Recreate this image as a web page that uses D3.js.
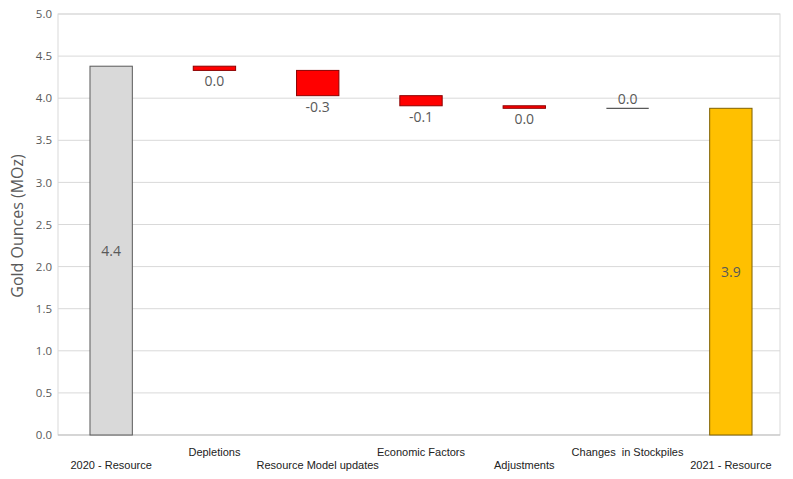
<html>
<script src='https://d3js.org/d3.v7.min.js'></script>
<style>
    body { margin: 0; background: #fff; }
    text { font-family: 'Open Sans', sans-serif; }
</style>
<body onload='init()'>
<svg width=793 height=479 id="chart"></svg>
<script>
// chart values
var categories = ["2020 - Resource", "Depletions", "Resource Model updates", "Economic Factors",
                  "Adjustments", "Changes  in Stockpiles", "2021 - Resource"];
var startValue = 4.38;
var changes = [-0.05, -0.30, -0.12, -0.03, 0.0];
var endValue = 3.88;
var valueLabels = ["4.4", "0.0", "-0.3", "-0.1", "0.0", "0.0", "3.9"];
var yTicks = [0, 0.5, 1, 1.5, 2, 2.5, 3, 3.5, 4, 4.5, 5];

function init() {
    var svg = d3.select("svg");
    var left = 58, right = 780, top = 14, bottom = 435;

    var xScale = d3.scaleBand().domain(categories).range([59, 783]).paddingInner(0.59).paddingOuter(0.3);
    var yScale = d3.scaleLinear().domain([0, 5]).range([bottom, top]);

    // build waterfall rows
    var rows = [];
    var run = startValue;
    rows.push({ cat: categories[0], y0: 0, y1: startValue, type: "total", fill: "#d9d9d9", stroke: "#595959" });
    changes.forEach(function (c, i) {
        var next = run + c;
        rows.push({ cat: categories[i + 1], y0: next, y1: run, type: c === 0 ? "zero" : "delta",
                    fill: "#ff0000", stroke: "#8b0000" });
        run = next;
    });
    rows.push({ cat: categories[6], y0: 0, y1: endValue, type: "total", fill: "#ffc000", stroke: "#7f6000" });

    // gridlines
    svg.append("g").selectAll("line").data(yTicks.slice(1)).enter().append("line")
        .attr("x1", left).attr("x2", right)
        .attr("y1", function (d) { return yScale(d); })
        .attr("y2", function (d) { return yScale(d); })
        .attr("stroke", "#d9d9d9").attr("stroke-width", 1);

    // plot border
    svg.append("rect").attr("x", left).attr("y", top).attr("width", right - left).attr("height", bottom - top)
        .attr("fill", "none").attr("stroke", "#d9d9d9");
    svg.append("line").attr("x1", left).attr("x2", right).attr("y1", bottom).attr("y2", bottom)
        .attr("stroke", "#bfbfbf");

    // y axis
    var yAxis = svg.append("g").attr("transform", "translate(" + left + ",0)")
        .call(d3.axisLeft(yScale).tickValues(yTicks).tickFormat(d3.format(".1f")).tickSize(0).tickPadding(6));
    yAxis.select(".domain").remove();
    yAxis.selectAll("text").attr("fill", "#595959").style("font-size", "11.5px");

    svg.append("text")
        .attr("transform", "translate(23,226) rotate(-90)")
        .attr("text-anchor", "middle")
        .attr("fill", "#595959")
        .style("font-size", "16px")
        .text("Gold Ounces (MOz)");

    // bars
    var bw = xScale.bandwidth();
    svg.append("g").selectAll("rect").data(rows.filter(function (d) { return d.type !== "zero"; }))
        .enter().append("rect")
        .attr("x", function (d) { return xScale(d.cat); })
        .attr("y", function (d) { return yScale(d.y1); })
        .attr("width", bw)
        .attr("height", function (d) { return Math.max(yScale(d.y0) - yScale(d.y1), 1); })
        .attr("fill", function (d) { return d.fill; })
        .attr("stroke", function (d) { return d.stroke; })
        .attr("stroke-width", 1);

    // zero change shown as a line
    rows.filter(function (d) { return d.type === "zero"; }).forEach(function (d) {
        svg.append("line")
            .attr("x1", xScale(d.cat)).attr("x2", xScale(d.cat) + bw)
            .attr("y1", yScale(d.y0)).attr("y2", yScale(d.y0))
            .attr("stroke", "#595959").attr("stroke-width", 1.2);
    });

    // value labels
    rows.forEach(function (d, i) {
        var cx = xScale(d.cat) + bw / 2, ty;
        if (d.type === "total") ty = (yScale(d.y0) + yScale(d.y1)) / 2 + 5;
        else if (d.type === "zero") ty = yScale(d.y0) - 4;
        else ty = yScale(d.y0) + 16;
        svg.append("text").attr("x", cx).attr("y", ty)
            .attr("text-anchor", "middle").attr("fill", "#595959")
            .style("font-size", "14px")
            .text(valueLabels[i]);
    });

    // category labels, staggered
    categories.forEach(function (c, i) {
        svg.append("text")
            .attr("x", xScale(c) + bw / 2)
            .attr("y", i % 2 === 1 ? 456 : 469)
            .attr("text-anchor", "middle")
            .attr("fill", "#222")
            .style("font-family", "'Liberation Sans', Arial, sans-serif")
            .style("font-size", "11px")
            .style("white-space", "pre")
            .text(c);
    });
}
</script>
</body>
</html>
